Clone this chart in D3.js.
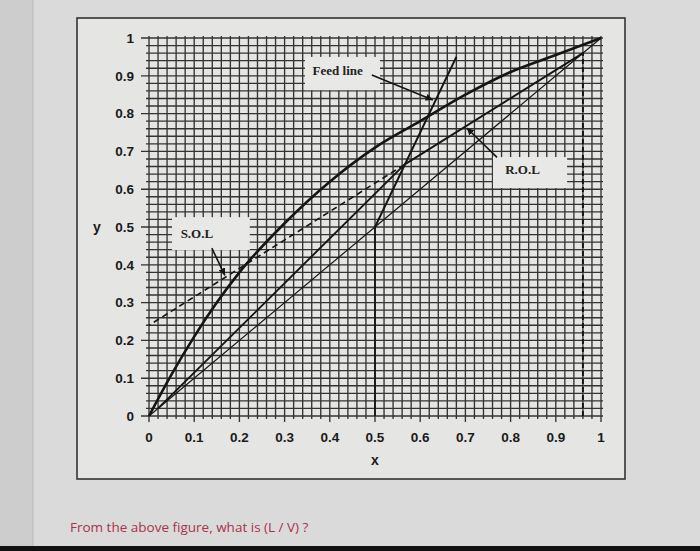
<!DOCTYPE html>
<html>
<head>
<meta charset="utf-8">
<script src="https://cdn.jsdelivr.net/npm/d3@7"></script>
<style>
  body { margin: 0; background: #d9d9d9; }
  svg { display: block; }
</style>
</head>
<body>
<svg id="main_canvas" width="700" height="551"></svg>
<script>
    // McCabe-Thiele diagram, values
    const CANVAS_WIDTH = 700;
    const CANVAS_HEIGHT = 551;

    // equilibrium curve
    const eqX = [0, 0.05, 0.1, 0.15, 0.2, 0.3, 0.4, 0.5, 0.6, 0.7, 0.8, 0.9, 1];
    const eqY = [0, 0.11, 0.21, 0.30, 0.38, 0.51, 0.62, 0.71, 0.78, 0.85, 0.91, 0.955, 1];

    // y = x diagonal
    const diagX = [0, 1];
    const diagY = [0, 1];

    // rectifying operating line, from (xD, xD) to the feed line
    const rolX = [0.96, 0.565];
    const rolY = [0.96, 0.665];

    // dashed extension of R.O.L to the y axis
    const rolExtX = [0.565, 0];
    const rolExtY = [0.665, 0.24];

    // stripping operating line
    const solX = [0.02, 0.565];
    const solY = [0.02, 0.665];

    // feed line (q-line)
    const feedX = [0.5, 0.68];
    const feedY = [0.5, 0.95];

    const xFeed = 0.5;
    const xDist = 0.96;

    const tickValues = [0, 0.1, 0.2, 0.3, 0.4, 0.5, 0.6, 0.7, 0.8, 0.9, 1];
    const tickLabels = ["0", "0.1", "0.2", "0.3", "0.4", "0.5", "0.6", "0.7", "0.8", "0.9", "1"];

    const labelNames = ["Feed line", "R.O.L", "S.O.L"];

    const margins = { left: 149, right: 99, top: 38, bottom: 135 };

    const x = d3.scaleLinear()
        .domain([0, 1])
        .range([margins.left, CANVAS_WIDTH - margins.right]);

    const y = d3.scaleLinear()
        .domain([0, 1])
        .range([CANVAS_HEIGHT - margins.bottom, margins.top]);

    const svg = d3.select("#main_canvas");

    // photo background: page, screen edge, frame
    svg.append("rect").attr("width", CANVAS_WIDTH).attr("height", CANVAS_HEIGHT).attr("fill", "#dadada");
    svg.append("rect").attr("width", 33).attr("height", CANVAS_HEIGHT).attr("fill", "#cdcdcd");
    svg.append("line").attr("x1", 33).attr("x2", 33).attr("y1", 0).attr("y2", CANVAS_HEIGHT)
        .attr("stroke", "#b8b8b8");
    svg.append("rect").attr("x", 77).attr("y", 18).attr("width", 548).attr("height", 461)
        .attr("fill", "#e5e5e3").attr("stroke", "#333").attr("stroke-width", 1.6);
    svg.append("rect").attr("y", CANVAS_HEIGHT - 5).attr("width", CANVAS_WIDTH).attr("height", 5)
        .attr("fill", "#111");

    // graph paper grid, every 0.02
    const gridVals = d3.range(0, 51).map(i => i / 50);
    const grid = svg.append("g")
        .attr("stroke", "#333")
        .attr("stroke-width", 1.35);
    grid.selectAll(".v")
        .data(gridVals)
        .join("line")
        .attr("class", "v")
        .attr("x1", d => x(d)).attr("x2", d => x(d))
        .attr("y1", y(1) - 2).attr("y2", d => y(0) + (Math.round(d * 50) % 5 === 0 ? 6 : 3));
    grid.selectAll(".h")
        .data(gridVals)
        .join("line")
        .attr("class", "h")
        .attr("y1", d => y(d)).attr("y2", d => y(d))
        .attr("x1", d => x(0) - (Math.round(d * 50) % 5 === 0 ? 8 : 3)).attr("x2", x(1) + 2);

    // tick labels
    const tickFont = "bold 13.5px 'Liberation Sans', Arial, sans-serif";
    svg.append("g")
        .selectAll("text")
        .data(tickValues)
        .join("text")
        .attr("x", x(0) - 15)
        .attr("y", d => y(d))
        .attr("dy", "0.35em")
        .attr("text-anchor", "end")
        .style("font", tickFont)
        .attr("fill", "#1a1a1a")
        .text((d, i) => tickLabels[i]);
    svg.append("g")
        .selectAll("text")
        .data(tickValues)
        .join("text")
        .attr("x", d => x(d))
        .attr("y", y(0) + 21)
        .attr("dy", "0.35em")
        .attr("text-anchor", "middle")
        .style("font", tickFont)
        .attr("fill", "#1a1a1a")
        .text((d, i) => tickLabels[i]);

    svg.append("text").attr("x", 97).attr("y", y(0.5)).attr("dy", "0.35em")
        .attr("text-anchor", "middle").style("font", "bold 14px 'Liberation Sans', Arial, sans-serif")
        .attr("fill", "#1a1a1a").text("y");
    svg.append("text").attr("x", x(0.5)).attr("y", y(0) + 44).attr("dy", "0.35em")
        .attr("text-anchor", "middle").style("font", "bold 14px 'Liberation Sans', Arial, sans-serif")
        .attr("fill", "#1a1a1a").text("x");

    // lines
    const toPts = (xs, ys) => xs.map((v, i) => [v, ys[i]]);
    const line = d3.line().x(d => x(d[0])).y(d => y(d[1]));
    const curve = d3.line().x(d => x(d[0])).y(d => y(d[1])).curve(d3.curveMonotoneX);

    const lines = svg.append("g").attr("fill", "none").attr("stroke", "#151515");

    lines.append("path").attr("d", line(toPts(diagX, diagY))).attr("stroke-width", 1.2);
    lines.append("path").attr("d", line(toPts(rolX, rolY))).attr("stroke-width", 1.9);
    lines.append("path").attr("d", line(toPts(solX, solY))).attr("stroke-width", 1.9);
    lines.append("path").attr("d", line(toPts(rolExtX, rolExtY)))
        .attr("stroke-width", 1.6).attr("stroke-dasharray", "6,4");
    lines.append("path").attr("d", line(toPts(feedX, feedY))).attr("stroke-width", 2);
    lines.append("path").attr("d", curve(toPts(eqX, eqY))).attr("stroke-width", 2.6);
    lines.append("path").attr("d", line([[xFeed, 0], [xFeed, xFeed]])).attr("stroke-width", 1.8);
    lines.append("path").attr("d", line([[xDist, 0], [xDist, xDist]]))
        .attr("stroke-width", 2).attr("stroke-dasharray", "5,3");

    // labels with arrows (box corners, text start, arrow start/end in data units)
    const notes = [
        { box: [0.345, 0.95, 0.511, 0.862], text: [0.362, 0.913], from: [0.493, 0.902], to: [0.628, 0.836] },
        { box: [0.761, 0.685, 0.925, 0.603], text: [0.788, 0.651], from: [0.77, 0.684], to: [0.703, 0.762] },
        { box: [0.051, 0.526, 0.223, 0.439], text: [0.07, 0.484], from: [0.139, 0.444], to: [0.168, 0.372] }
    ];

    svg.append("defs").append("marker")
        .attr("id", "head")
        .attr("viewBox", "0 0 10 10")
        .attr("refX", 10).attr("refY", 5)
        .attr("markerWidth", 4.5).attr("markerHeight", 4.5)
        .attr("orient", "auto")
        .append("path").attr("d", "M0,0L10,5L0,10Z").attr("fill", "#151515");

    const note = svg.append("g")
        .selectAll("g")
        .data(notes)
        .join("g");
    note.append("rect")
        .attr("x", d => x(d.box[0]))
        .attr("y", d => y(d.box[1]))
        .attr("width", d => x(d.box[2]) - x(d.box[0]))
        .attr("height", d => y(d.box[3]) - y(d.box[1]))
        .attr("fill", "#e8e8e6");
    note.append("text")
        .attr("x", d => x(d.text[0]))
        .attr("y", d => y(d.text[1]))
        .attr("dy", "0.35em")
        .style("font", "bold 13px 'Liberation Serif', 'Times New Roman', serif")
        .attr("fill", "#222")
        .text((d, i) => labelNames[i]);
    note.append("line")
        .attr("x1", d => x(d.from[0])).attr("y1", d => y(d.from[1]))
        .attr("x2", d => x(d.to[0])).attr("y2", d => y(d.to[1]))
        .attr("stroke", "#151515").attr("stroke-width", 1.6)
        .attr("marker-end", "url(#head)");

    // question under the figure
    svg.append("text")
        .attr("x", 70).attr("y", 532)
        .style("font", "13.5px 'Open Sans', sans-serif")
        .attr("fill", "#a8324c")
        .text("From the above figure, what is (L / V) ?");
</script>
</body>
</html>
